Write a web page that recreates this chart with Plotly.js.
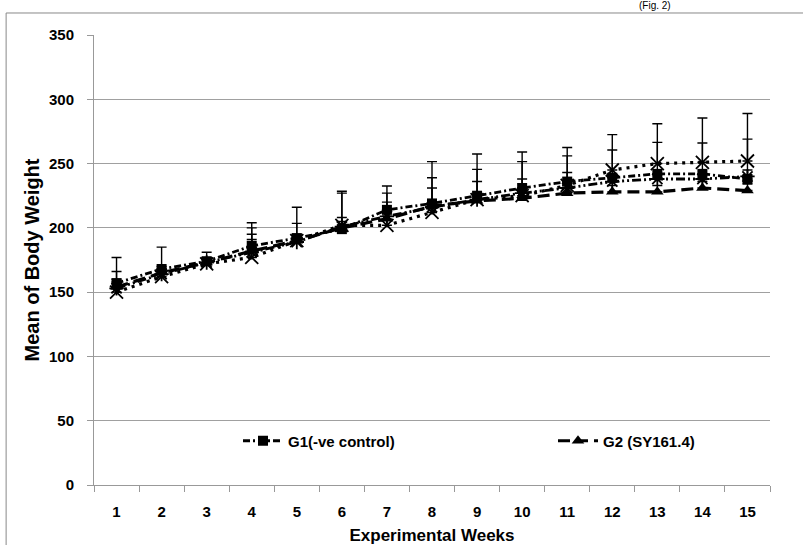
<!DOCTYPE html>
<html>
<head>
<meta charset="utf-8">
<script src="https://cdn.plot.ly/plotly-3.0.1.min.js"></script>
<style>html,body{margin:0;padding:0;background:#fff;}#chart{width:803px;height:545px;}</style>
</head>
<body>
<div id="chart"></div>
<script>
var weeks = ['1','2','3','4','5','6','7','8','9','10','11','12','13','14','15'];
var g1 = [157, 168, 174, 186, 192, 199, 214, 219, 225, 231, 236, 239, 242, 242, 238];
var g1Err = [20, 17, 7, 18, 24, 29.5, 18.5, 32.5, 32.5, 28, 26.5, 21.5, 24.5, 24, 31];
var g2 = [154, 165, 173, 182, 190, 200, 207, 217, 221, 223, 227, 228, 228, 231, 229];
var g2Err = [12, 5, 4, 18, 13.5, 8, 20, 22, 24.5, 15, 16, 5, 5, 5, 5];
var g3 = [150, 162, 172, 177, 190, 202, 202, 212, 222, 225, 233, 245, 250, 251, 252];
var g3Err = [10, 5, 3, 14, 5, 25, 18, 19, 14, 26.5, 23, 27.5, 31, 34.5, 37];
var g4 = [153, 164, 173, 181, 189, 201, 209, 216, 222, 227, 231, 236, 238, 238, 240];
var g4Err = [5, 4, 3, 14, 4, 4, 5, 4, 4, 4, 4, 4, 4, 4, 5];
var names = ['G1(-ve control)', 'G2 (SY161.4)', 'G3', 'G4'];
var topNote = '(Fig. 2)';

var sans = 'Liberation Sans, Arial, sans-serif';

function errs(arr) {
  return {type: 'data', symmetric: false, array: arr, arrayminus: arr.map(function(){return 0;}),
          color: '#000', thickness: 1.4, width: 5};
}

var traces = [
  {x: weeks, y: g4, name: names[3], showlegend: false, mode: 'lines+markers',
   line: {color: '#000', width: 2.8, dash: '9px,3px,2px,3px,2px,3px'},
   marker: {symbol: 'asterisk-open', size: 12, color: '#000', line: {color: '#000', width: 1.8}},
   error_y: errs(g4Err)},
  {x: weeks, y: g3, name: names[2], showlegend: false, mode: 'lines+markers',
   line: {color: '#000', width: 3.2, dash: '3px,5px'},
   marker: {symbol: 'x-thin-open', size: 13, color: '#000', line: {color: '#000', width: 1.8}},
   error_y: errs(g3Err)},
  {x: weeks, y: g2, name: names[1], mode: 'lines+markers', legend: 'legend2',
   line: {color: '#000', width: 3.2, dash: '12px,6px'},
   marker: {symbol: 'triangle-up', size: 11, color: '#000'},
   error_y: errs(g2Err)},
  {x: weeks, y: g1, name: names[0], mode: 'lines+markers', legend: 'legend',
   line: {color: '#000', width: 2.8, dash: '7px,3px,2px,3px'},
   marker: {symbol: 'square', size: 10, color: '#000'},
   error_y: errs(g1Err)}
];

var legFont = {family: sans, size: 15, color: '#000', weight: 700};
var layout = {
  width: 803, height: 545,
  margin: {l: 94, r: 33, t: 35, b: 60},
  paper_bgcolor: '#fff', plot_bgcolor: '#fff',
  showlegend: true,
  legend: {x: (238 - 94) / 676, xanchor: 'left', y: (485 - 441) / 450, yanchor: 'middle',
           font: legFont, bgcolor: 'rgba(0,0,0,0)', itemwidth: 40},
  legend2: {x: (553 - 94) / 676, xanchor: 'left', y: (485 - 441) / 450, yanchor: 'middle',
           font: legFont, bgcolor: 'rgba(0,0,0,0)', itemwidth: 40},
  xaxis: {type: 'category', tickson: 'boundaries', ticks: 'outside', ticklen: 6,
          tickcolor: '#999', showline: true, linecolor: '#999', linewidth: 1,
          showgrid: false, ticklabelstandoff: 13,
          tickfont: {family: sans, size: 15, color: '#000', weight: 700},
          title: {text: 'Experimental Weeks', standoff: 12,
                  font: {family: sans, size: 17, color: '#000', weight: 700}},
          range: [-0.5, 14.5]},
  yaxis: {range: [0, 350], dtick: 50, ticks: 'outside', ticklen: 6, tickcolor: '#999',
          showline: true, linecolor: '#999', linewidth: 1, showgrid: true,
          gridcolor: '#a0a0a0', gridwidth: 1, zeroline: false, ticklabelstandoff: 10,
          tickfont: {family: sans, size: 15, color: '#000', weight: 700},
          title: {text: 'Mean of Body Weight', standoff: 3,
                  font: {family: sans, size: 20, color: '#000', weight: 700}}},
  shapes: [
    {type: 'rect', xref: 'paper', yref: 'paper', x0: -0.13, x1: 1.07, y0: -0.16, y1: 1.0489,
     line: {color: '#888', width: 1}, fillcolor: 'rgba(0,0,0,0)', layer: 'below'}
  ],
  annotations: [
    {text: topNote, xref: 'paper', yref: 'paper', x: (655 - 94) / 676, y: 1 + (35 - 13) / 450,
     xanchor: 'center', yanchor: 'bottom', showarrow: false,
     font: {family: sans, size: 10, color: '#000'}}
  ]
};

Plotly.newPlot('chart', traces, layout, {displayModeBar: false, staticPlot: true});
</script>
</body>
</html>
